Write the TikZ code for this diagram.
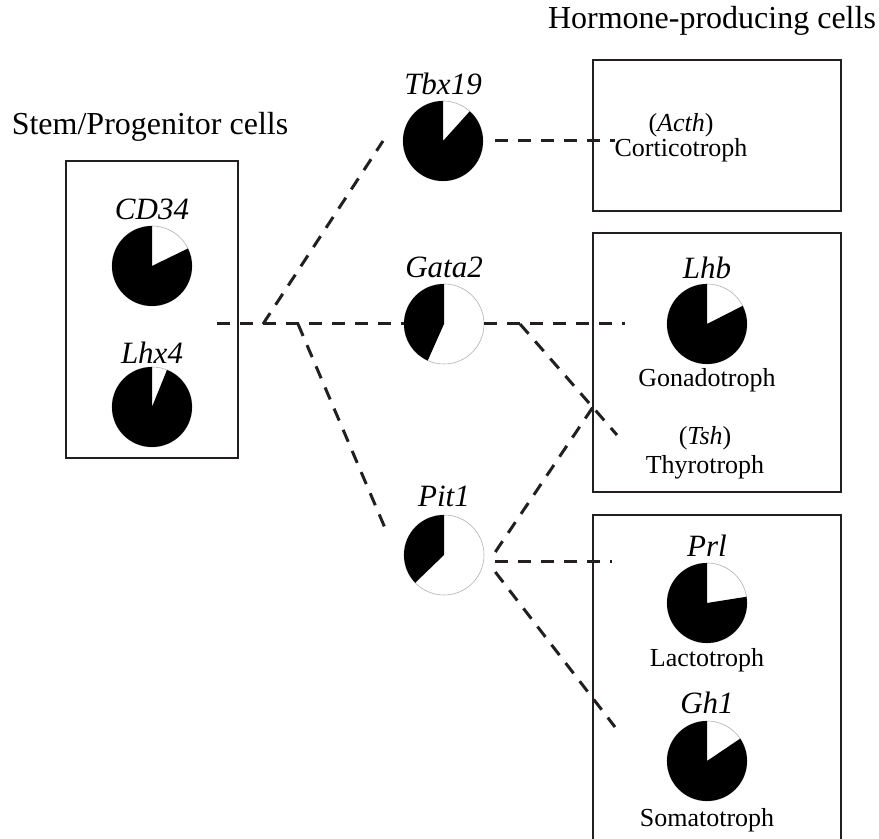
\documentclass[tikz,border=0pt]{standalone}
\usepackage{fontspec}
\setmainfont{Liberation Serif}
\definecolor{ink}{HTML}{231F20}
\tikzset{
  cellbox/.style={draw=ink, line width=1pt},
  link/.style={draw=ink, line width=1.5pt, dash pattern=on 6.5pt off 5pt},
  piebase/.style={circle, draw=gray!60, line width=0.3pt, fill=white, minimum size=40pt, inner sep=0pt},
  gene/.style={anchor=base, inner sep=0pt, font=\fontsize{15.5}{18}\selectfont\itshape},
  celltype/.style={anchor=base, inner sep=0pt, font=\fontsize{13}{15}\selectfont},
  heading/.style={anchor=base, inner sep=0pt, font=\fontsize{16}{19}\selectfont},
}
% black part of a pie, from 90 deg counterclockwise to #2
\newcommand{\piefill}[2]{%
  \fill[black] (#1.center) -- ++(90:40) arc[start angle=90, end angle=#2, radius=40] -- cycle;}

\begin{document}
\begin{tikzpicture}[x=0.5pt,y=0.5pt]
   \useasboundingbox (0,0) rectangle (879,-839);
   % headings
   \node[heading] (stemtitle) at (150,-135) {Stem/Progenitor cells};
   \node[heading] (hormtitle) at (712,-29) {Hormone-producing cells};
   % boxes
   \draw[cellbox] (66,-161) rectangle (238,-458);
   \draw[cellbox] (593,-60) rectangle (841,-211);
   \draw[cellbox] (593,-233) rectangle (841,-492);
   \draw[cellbox] (593,-850) -- (593,-515) -- (841,-515) -- (841,-850);
   % stem/progenitor cells
   \node[gene] (cdlab) at (152,-220) {CD34};
   \node[piebase] (cd) at (152,-266) {};
   \piefill{cd}{386}
   \node[gene] (lhxlab) at (152,-364) {Lhx4};
   \node[piebase] (lhx) at (152,-407) {};
   \piefill{lhx}{428}
   % transcription factors
   \node[gene] (tbxlab) at (443,-95) {Tbx19};
   \node[piebase] (tbx) at (443,-141) {};
   \piefill{tbx}{408}
   \node[gene] (gatalab) at (444,-278) {Gata2};
   \node[piebase] (gata) at (444,-324) {};
   \piefill{gata}{246}
   \node[gene] (pitlab) at (444,-507) {Pit1};
   \node[piebase] (pit) at (444,-555) {};
   \piefill{pit}{224}
   % hormone-producing cells
   \node[celltype] (acth) at (681,-132) {(\textit{Acth})};
   \node[celltype] (cortico) at (681,-157) {Corticotroph};
   \node[gene] (lhblab) at (707,-279) {Lhb};
   \node[piebase] (lhb) at (707,-324) {};
   \piefill{lhb}{387}
   \node[celltype] (gonado) at (707,-387) {Gonadotroph};
   \node[celltype] (tsh) at (705,-445) {(\textit{Tsh})};
   \node[celltype] (thyro) at (705,-474) {Thyrotroph};
   \node[gene] (prllab) at (707,-557) {Prl};
   \node[piebase] (prl) at (707,-603) {};
   \piefill{prl}{369}
   \node[celltype] (lacto) at (707,-667) {Lactotroph};
   \node[gene] (ghlab) at (707,-713) {Gh1};
   \node[piebase] (gh) at (707,-761) {};
   \piefill{gh}{394}
   \node[celltype] (somato) at (707,-827) {Somatotroph};
   % free ends of the links
   \coordinate (stem) at (217,-324);
   \coordinate (up) at (263,-324);
   \coordinate (down) at (298,-324);
   \coordinate (tbxin) at (383,-141);
   \coordinate (pitin) at (388,-535);
   \coordinate (tbxout) at (615,-141);
   \coordinate (gataout) at (625,-324);
   \coordinate (gatafork) at (520,-324);
   \coordinate (tshin) at (617,-435);
   \coordinate (gonadoin) at (593,-407);
   \coordinate (prlin) at (612,-562);
   \coordinate (ghin) at (615,-727);
   % links
   \draw[link] (stem) -- (gata.west);
   \draw[link] (up) -- (tbxin);
   \draw[link] (down) -- (pitin);
   \draw[link] ([xshift=6]tbx.east) -- (tbxout);
   \draw[link] (gata.east) -- (gataout);
   \draw[link] (gatafork) -- (tshin);
   \draw[link] ([shift={(11,3)}]pit.east) -- (gonadoin);
   \draw[link] ([shift={(11,-7)}]pit.east) -- (prlin);
   \draw[link] ([shift={(11,-17)}]pit.east) -- (ghin);
\end{tikzpicture}
\end{document}
